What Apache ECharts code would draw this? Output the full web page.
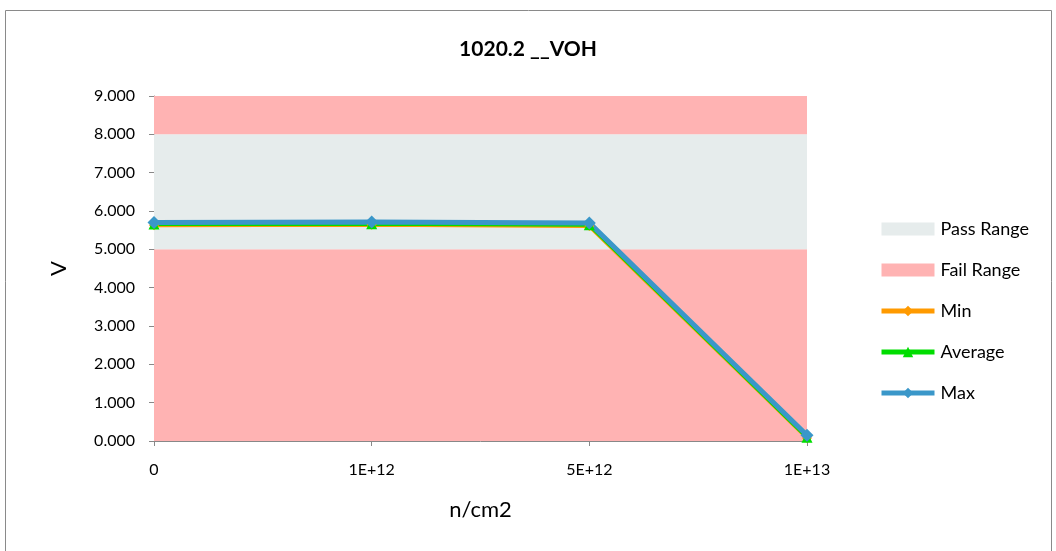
<!DOCTYPE html>
<html>
<head>
<meta charset="utf-8">
<script src="https://cdn.jsdelivr.net/npm/echarts@6/dist/echarts.min.js"></script>
<style>
  html, body { margin: 0; padding: 0; background: #fff; }
  #chart { width: 1056px; height: 551px; }
</style>
</head>
<body>
<div id="chart"></div>
<script>
// data
var categories = ['0', '1E+12', '5E+12', '1E+13'];
var failLow = [5, 5, 5, 5];
var passBand = [3, 3, 3, 3];
var failHigh = [1, 1, 1, 1];
var minVals = [5.63, 5.64, 5.61, 0.08];
var avgVals = [5.66, 5.67, 5.64, 0.10];
var maxVals = [5.70, 5.71, 5.69, 0.15];

var font = 'Lato, "Open Sans", sans-serif';

var myChart = echarts.init(document.getElementById('chart'));

function band(name, data, color) {
  return {
    name: name,
    type: 'line',
    stack: 'range',
    data: data,
    symbol: 'none',
    lineStyle: { width: 0 },
    areaStyle: { color: color, opacity: 1 },
    itemStyle: { color: color },
    silent: true,
    z: 1
  };
}

function valueLine(name, data, color, symbol, size, width) {
  return {
    name: name,
    type: 'line',
    data: data,
    symbol: symbol,
    symbolSize: size,
    lineStyle: { color: color, width: width },
    itemStyle: { color: color },
    z: 5
  };
}

var option = {
  animation: false,
  textStyle: { fontFamily: font },
  title: {
    text: '1020.2 __VOH',
    left: 'center',
    top: 34,
    textStyle: { fontFamily: font, fontSize: 21, fontWeight: 'bold', color: '#000' }
  },
  graphic: [{
    type: 'rect',
    shape: { x: 5.5, y: 10.5, width: 1046, height: 560 },
    style: { fill: 'none', stroke: '#8a8a8a', lineWidth: 1 },
    silent: true
  }],
  legend: {
    orient: 'vertical',
    left: 874,
    top: 214,
    itemGap: 21,
    itemWidth: 53,
    itemHeight: 13,
    lineStyle: { width: 5 },
    textStyle: { fontFamily: font, fontSize: 18, lineHeight: 20, color: '#000', padding: [0, 0, 0, 1] },
    data: [
      { name: 'Pass Range', icon: 'rect' },
      { name: 'Fail Range', icon: 'rect' },
      'Min', 'Average', 'Max'
    ]
  },
  grid: { left: 154, right: 249, top: 96, bottom: 110 },
  xAxis: {
    type: 'category',
    data: categories,
    boundaryGap: false,
    name: 'n/cm2',
    nameLocation: 'middle',
    nameGap: 58,
    nameTextStyle: { fontFamily: font, fontSize: 22, color: '#000' },
    axisLine: { lineStyle: { color: '#888', width: 1 } },
    axisTick: { show: true, alignWithLabel: true, length: 5, lineStyle: { color: '#888' } },
    axisLabel: { fontFamily: font, fontSize: 16, color: '#000', margin: 21 }
  },
  yAxis: {
    type: 'value',
    min: 0,
    max: 9,
    interval: 1,
    name: 'V',
    nameLocation: 'middle',
    nameGap: 84,
    nameRotate: 90,
    nameTextStyle: { fontFamily: font, fontSize: 22, color: '#000' },
    axisLine: { show: true, lineStyle: { color: '#888', width: 1 } },
    axisTick: { show: true, length: 5, inside: false, lineStyle: { color: '#888' } },
    splitLine: { show: false },
    axisLabel: {
      fontFamily: font, fontSize: 16, color: '#000', margin: 19,
      formatter: function (v) { return v.toFixed(3); }
    }
  },
  series: [
    band('Fail Range', failLow, '#ffb3b3'),
    band('Pass Range', passBand, '#e6ecec'),
    band('Fail Range', failHigh, '#ffb3b3'),
    valueLine('Min', minVals, '#ff9a00', 'diamond', 10, 4),
    valueLine('Average', avgVals, '#00dd00', 'triangle', 11, 4),
    valueLine('Max', maxVals, '#3a97c9', 'diamond', 13, 5)
  ]
};

myChart.setOption(option);
</script>
</body>
</html>
